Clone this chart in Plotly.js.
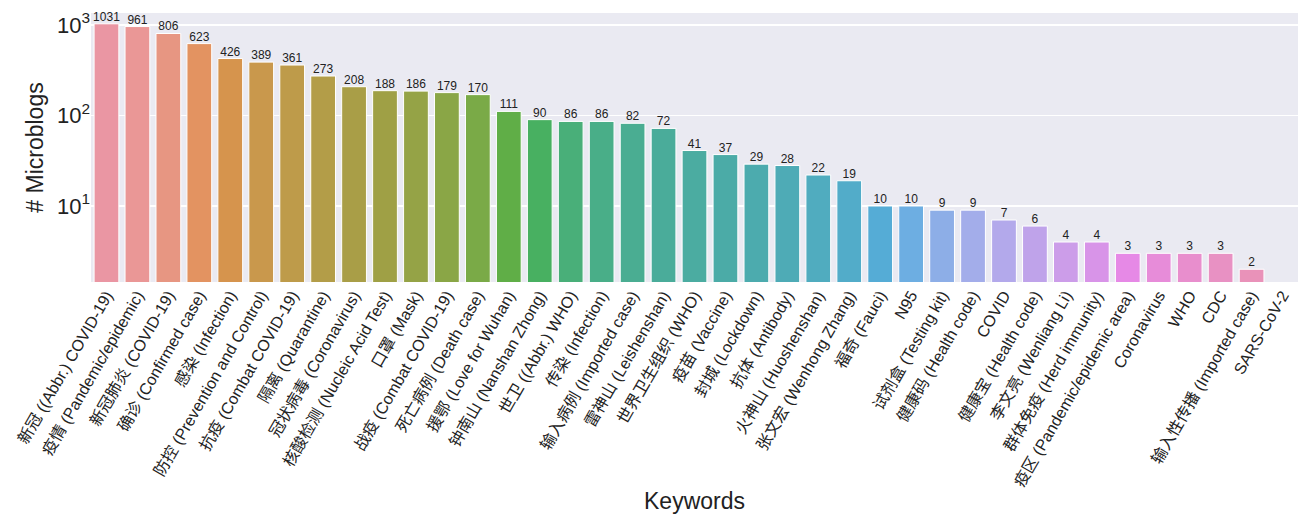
<!DOCTYPE html>
<html>
<head>
<meta charset="utf-8">
<script src="https://cdn.plot.ly/plotly-3.0.1.min.js"></script>
<style>html,body{margin:0;padding:0;background:#fff;}#chart{width:1298px;height:514px;}</style>
</head>
<body>
<div id="chart"></div>
<script>
// ---- data ----
const keywords = [
  "新冠 ((Abbr.) COVID-19)", "疫情 (Pandemic/epidemic)", "新冠肺炎 (COVID-19)", "确诊 (Confirmed case)",
  "感染 (Infection)", "防控 (Prevention and Control)", "抗疫 (Combat COVID-19)", "隔离 (Quarantine)",
  "冠状病毒 (Coronavirus)", "核酸检测 (Nucleic Acid Test)", "口罩 (Mask)", "战疫 (Combat COVID-19)",
  "死亡病例 (Death case)", "援鄂 (Love for Wuhan)", "钟南山 (Nanshan Zhong)", "世卫 ((Abbr.) WHO)",
  "传染 (Infection)", "输入病例 (Imported case)", "雷神山 (Leishenshan)", "世界卫生组织 (WHO)",
  "疫苗 (Vaccine)", "封城 (Lockdown)", "抗体 (Antibody)", "火神山 (Huoshenshan)",
  "张文宏 (Wenhong Zhang)", "福奇 (Fauci)", "N95", "试剂盒 (Testing kit)", "健康码 (Health code)",
  "COVID", "健康宝 (Health code)", "李文亮 (Wenliang Li)", "群体免疫 (Herd immunity)",
  "疫区 (Pandemic/epidemic area)", "Coronavirus", "WHO", "CDC", "输入性传播 (Imported case)", "SARS-CoV-2"
];
const microblogs = [
  1031, 961, 806, 623, 426, 389, 361, 273, 208, 188, 186, 179, 170,
  111, 90, 86, 86, 82, 72, 41, 37, 29, 28, 22, 19,
  10, 10, 9, 9, 7, 6, 4, 4, 3, 3, 3, 3, 2, 1
];
const yTickVals = [10, 100, 1000];
const yTickText = ["10<sup>1</sup>", "10<sup>2</sup>", "10<sup>3</sup>"];

// ---- seaborn-like husl palette (HSLuv) + desaturation ----
const M = [
  [3.240969941904521, -1.537383177570093, -0.498610760293],
  [-0.96924363628087, 1.87596750150772, 0.041555057407175],
  [0.055630079696993, -0.20397695888897, 1.056971514242878]
];
const refU = 0.19783000664283, refV = 0.46831999493879, kappa = 903.2962962, eps = 0.0088564516;
function getBounds(L) {
  const res = [];
  const sub1 = Math.pow(L + 16, 3) / 1560896;
  const sub2 = sub1 > eps ? sub1 : L / kappa;
  for (let c = 0; c < 3; c++) {
    const [m1, m2, m3] = M[c];
    for (let t = 0; t < 2; t++) {
      const top1 = (284517 * m1 - 94839 * m3) * sub2;
      const top2 = (838422 * m3 + 769860 * m2 + 731718 * m1) * L * sub2 - 769860 * t * L;
      const bottom = (632260 * m3 - 126452 * m2) * sub2 + 126452 * t;
      res.push([top1 / bottom, top2 / bottom]);
    }
  }
  return res;
}
function maxChroma(L, H) {
  const hrad = H / 360 * Math.PI * 2;
  let min = Infinity;
  for (const [m, b] of getBounds(L)) {
    const len = b / (Math.sin(hrad) - m * Math.cos(hrad));
    if (len >= 0) min = Math.min(min, len);
  }
  return min;
}
function fromLinear(c) { return c <= 0.0031308 ? 12.92 * c : 1.055 * Math.pow(c, 1 / 2.4) - 0.055; }
function huslToRgb(H, S, L) {
  const C = maxChroma(L, H) / 100 * S;
  const hrad = H / 180 * Math.PI;
  const U = C * Math.cos(hrad), V = C * Math.sin(hrad);
  const varU = U / (13 * L) + refU, varV = V / (13 * L) + refV;
  const Y = L <= 8 ? L / kappa : Math.pow((L + 16) / 116, 3);
  const X = 0 - (9 * Y * varU) / ((varU - 4) * varV - varU * varV);
  const Z = (9 * Y - 15 * varV * Y - varV * X) / (3 * varV);
  return M.map(r => Math.min(1, Math.max(0, fromLinear(r[0] * X + r[1] * Y + r[2] * Z))));
}
function rgbToHls(r, g, b) {
  const maxc = Math.max(r, g, b), minc = Math.min(r, g, b);
  const l = (minc + maxc) / 2;
  if (minc === maxc) return [0, l, 0];
  const s = l <= 0.5 ? (maxc - minc) / (maxc + minc) : (maxc - minc) / (2 - maxc - minc);
  const rc = (maxc - r) / (maxc - minc), gc = (maxc - g) / (maxc - minc), bc = (maxc - b) / (maxc - minc);
  let h;
  if (r === maxc) h = bc - gc; else if (g === maxc) h = 2 + rc - bc; else h = 4 + gc - rc;
  h = ((h / 6) % 1 + 1) % 1;
  return [h, l, s];
}
function _v(m1, m2, h) {
  h = ((h % 1) + 1) % 1;
  if (h < 1 / 6) return m1 + (m2 - m1) * h * 6;
  if (h < 0.5) return m2;
  if (h < 2 / 3) return m1 + (m2 - m1) * (2 / 3 - h) * 6;
  return m1;
}
function hlsToRgb(h, l, s) {
  if (s === 0) return [l, l, l];
  const m2 = l <= 0.5 ? l * (1 + s) : l + s - l * s;
  const m1 = 2 * l - m2;
  return [_v(m1, m2, h + 1 / 3), _v(m1, m2, h), _v(m1, m2, h - 1 / 3)];
}
function palette(n) {
  const out = [];
  for (let i = 0; i < n; i++) {
    let h = (i / n + 0.01) % 1;
    const rgb = huslToRgb(h * 359, 0.9 * 99, 0.7 * 99);
    const [hh, ll, ss] = rgbToHls(...rgb);
    const d = hlsToRgb(hh, ll, ss * 0.75);
    out.push('rgb(' + d.map(v => Math.round(v * 255)).join(',') + ')');
  }
  return out;
}
const barColors = palette(keywords.length);

const font = "Arial, 'Liberation Sans', 'Noto Sans CJK SC', sans-serif";
const yRange = [0.160, 3.1326];
const yMin = Math.pow(10, yRange[0]);

const bars = {
  type: 'bar',
  x: keywords,
  y: microblogs,
  marker: { color: barColors, line: { color: '#ffffff', width: 1 } },
  hoverinfo: 'x+y',
  showlegend: false
};
const labels = {
  type: 'scatter',
  mode: 'text',
  x: keywords,
  y: microblogs,
  text: microblogs.map(String),
  textposition: 'top center',
  // labels of bars that fall below the visible axis range are hidden
  textfont: { family: font, size: 12, color: microblogs.map(v => v < yMin ? 'rgba(0,0,0,0)' : '#222') },
  cliponaxis: false,
  hoverinfo: 'skip',
  showlegend: false
};

const layout = {
  width: 1298, height: 514,
  margin: { l: 91, r: 0, t: 13, b: 232, pad: 0 },
  paper_bgcolor: '#ffffff',
  plot_bgcolor: '#EAEAF2',
  bargap: 0.2,
  font: { family: font, color: '#222' },
  xaxis: {
    type: 'category',
    tickangle: -60,
    tickfont: { size: 16, family: font, color: '#222' },
    showgrid: false, zeroline: false, showline: false,
    ticks: '', automargin: false,
    range: [-0.5, keywords.length - 0.5],
    title: { text: 'Keywords', font: { size: 23, family: font, color: '#222' }, standoff: 22 }
  },
  yaxis: {
    type: 'log',
    range: yRange,
    tickvals: yTickVals,
    ticktext: yTickText,
    tickfont: { size: 22, family: font, color: '#222' },
    showgrid: true, gridcolor: '#ffffff', gridwidth: 1.2,
    zeroline: false, showline: false, ticks: '', automargin: false,
    title: { text: '# Microblogs', font: { size: 23, family: font, color: '#222' }, standoff: 6 }
  }
};

Plotly.newPlot('chart', [bars, labels], layout, { displayModeBar: false, staticPlot: true });
</script>
</body>
</html>
